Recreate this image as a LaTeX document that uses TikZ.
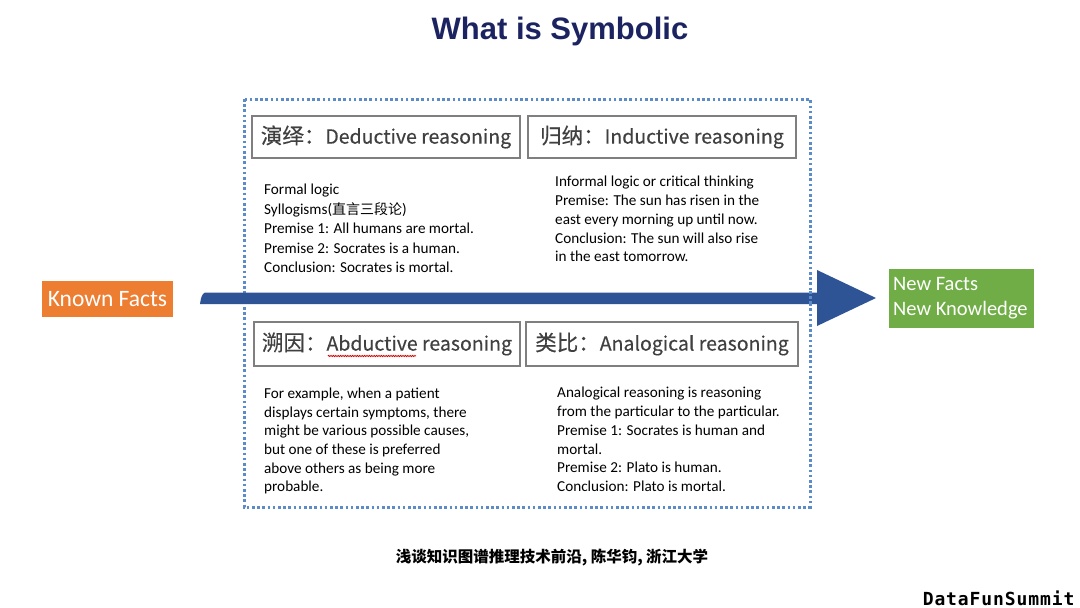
\documentclass[tikz,border=0pt]{standalone}
\usepackage{fontspec}
\setmainfont{Carlito}
\newfontfamily\cjk{Noto Sans CJK SC}
\newfontfamily\cjkhead[FakeBold=0.35]{Noto Sans CJK SC}
\newfontfamily\titlefont{Liberation Sans}
\newfontfamily\monofont[LetterSpace=5]{DejaVu Sans Mono}
\usetikzlibrary{decorations.pathmorphing}
\definecolor{navy}{HTML}{1B2460}
\definecolor{dotblue}{HTML}{5B8CC8}
\definecolor{headgray}{HTML}{7F7F7F}
\definecolor{headtext}{HTML}{404040}
\definecolor{arrowblue}{HTML}{2E5496}
\definecolor{orangef}{HTML}{ED7D31}
\definecolor{greenf}{HTML}{70AD47}
\newcommand{\hz}[1]{{\fontsize{21.5}{24}\selectfont #1}}
\tikzset{
  headbox/.style={draw=headgray, line width=1.8pt, rectangle, inner sep=0pt,
    font=\cjkhead\fontsize{19.5}{24}\selectfont, text=headtext},
  bodytext/.style={anchor=north west, inner sep=0pt, align=left, text=black},
  factbox/.style={rectangle, inner sep=0pt, text=white},
  dotframe/.style={dotblue, line width=3pt, dash pattern=on 2.6pt off 2.6pt}
}
\begin{document}
\begin{tikzpicture}[x=1pt,y=-1pt]
\useasboundingbox[fill=white] (0,0) rectangle (1080,608);

% title
\node[font=\titlefont\bfseries\fontsize{31}{36}\selectfont, text=navy] (title) at (560,31.5) {What is Symbolic};

% dotted frame
\draw[dotframe] (244,99) rectangle (810,507);

% arrow
\coordinate (shaftL) at (200,298);
\coordinate (tip) at (876,298);
\fill[arrowblue] (200,304) .. controls (201,297) and (202,294) .. (205,292.5) -- (817,292.5) -- (817,270) -- (tip) -- (817,326) -- (817,304) -- cycle;
\draw[dotframe] (810,291) -- (810,306);

% header boxes
\node[headbox, minimum width=268pt, minimum height=42pt] (ded) at (386,137) {\hz{演绎：}Deductive reasoning};
\node[headbox, minimum width=268pt, minimum height=42pt] (ind) at (662,137) {\hz{归纳：}Inductive reasoning};
\node[headbox, minimum width=266pt, minimum height=44pt] (abd) at (387,344) {\hz{溯因：}Abductive reasoning};
\node[headbox, minimum width=272pt, minimum height=44pt] (ana) at (662,344) {\hz{类比：}Analogical reasoning};
\draw[red!85!black, line width=0.8pt, decorate, decoration={zigzag, amplitude=0.6pt, segment length=2.4pt}] (328,356) -- (416,356);

% body texts
\node[bodytext, font=\fontsize{15.2}{19.5}\selectfont] (dedtxt) at (264,184)
  {Formal logic\\Syllogisms({\cjk\fontsize{14}{19.5}\selectfont 直言三段论})\\Premise 1: All humans are mortal.\\Premise 2: Socrates is a human.\\Conclusion: Socrates is mortal.};
\node[bodytext, font=\fontsize{15.2}{18.75}\selectfont] (indtxt) at (555,176)
  {Informal logic or critical thinking\\Premise: The sun has risen in the\\east every morning up until now.\\Conclusion: The sun will also rise\\in the east tomorrow.};
\node[bodytext, font=\fontsize{15.2}{18.6}\selectfont] (abdtxt) at (264,388)
  {For example, when a patient\\displays certain symptoms, there\\might be various possible causes,\\but one of these is preferred\\above others as being more\\probable.};
\node[bodytext, font=\fontsize{15.2}{18.8}\selectfont] (anatxt) at (557,387)
  {Analogical reasoning is reasoning\\from the particular to the particular.\\Premise 1: Socrates is human and\\mortal.\\Premise 2: Plato is human.\\Conclusion: Plato is mortal.};

% fact boxes
\node[factbox, fill=orangef, minimum width=131pt, minimum height=36pt, font=\fontsize{23.5}{26}\selectfont] (known) at (107.5,299) {Known Facts};
\node[factbox, fill=greenf, minimum width=145pt, minimum height=59pt] (newbox) at (961.5,298.5) {};
\node[anchor=west, inner sep=0pt, align=left, text=white, font=\fontsize{20.5}{25}\selectfont] (newtxt) at (893,298.5) {New Facts\\New Knowledge};

% footer
\node[font=\cjk\bfseries\fontsize{15.5}{18}\selectfont] (footer) at (552,558) {浅谈知识图谱推理技术前沿, 陈华钧, 浙江大学};
\node[anchor=east, font=\monofont\bfseries\fontsize{18}{20}\selectfont] (brand) at (1078,598) {DataFunSummit};
\end{tikzpicture}
\end{document}
